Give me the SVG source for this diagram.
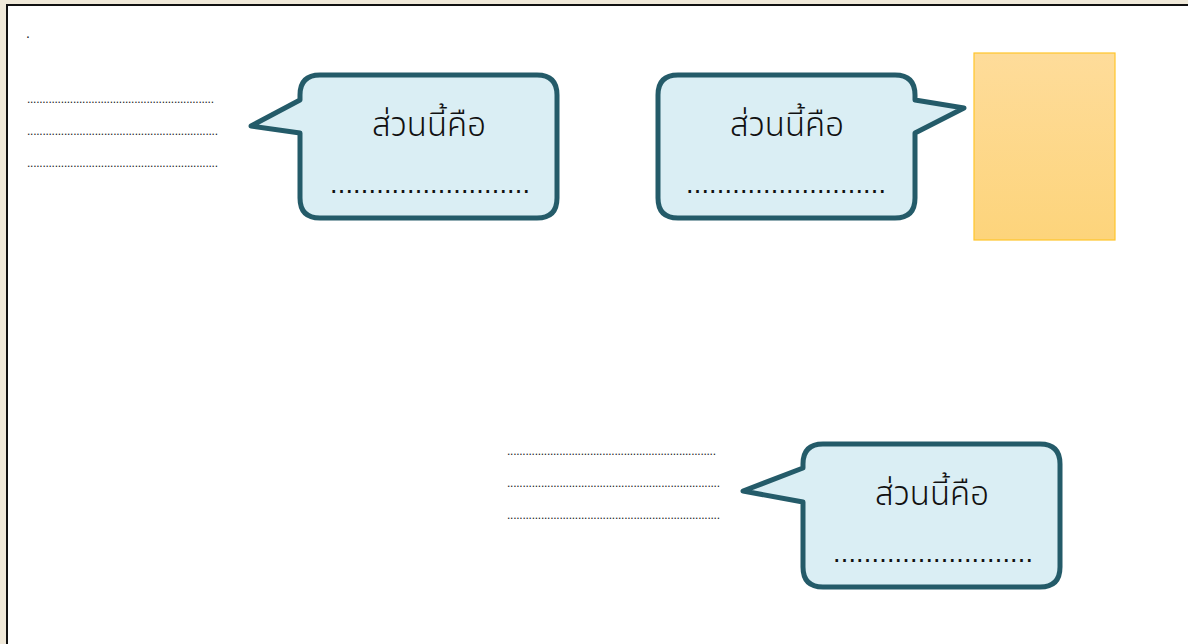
<svg xmlns="http://www.w3.org/2000/svg" width="1188" height="644" viewBox="0 0 1188 644">
<defs>
<linearGradient id="yg" x1="0" y1="0" x2="0" y2="1">
<stop offset="0" stop-color="#fedc9a"/>
<stop offset="1" stop-color="#fdd47b"/>
</linearGradient>
<style>
.bubble{fill:#daeef4;stroke:#245b69;stroke-width:5;stroke-linejoin:round}
.th{font-family:"Noto Sans Thai","Noto Sans","DejaVu Sans",sans-serif;font-size:33px;font-weight:300;fill:#111;text-anchor:middle}
.bd{font-family:"Liberation Sans",sans-serif;font-size:27px;fill:#111}
.sd{font-family:"Liberation Sans",sans-serif;font-size:12px;fill:#222}
</style>
</defs>
<rect x="0" y="0" width="1188" height="644" fill="#f0e9d9"/>
<rect x="7" y="5" width="1190" height="650" fill="#ffffff" stroke="#111" stroke-width="2"/>
<text class="sd" x="26" y="38" style="font-size:14px">.</text>
<g id="leftlines">
<text class="sd" x="27" y="103" textLength="187" lengthAdjust="spacing">.............................................................</text>
<text class="sd" x="27" y="135" textLength="191" lengthAdjust="spacing">..............................................................</text>
<text class="sd" x="27" y="167" textLength="191" lengthAdjust="spacing">..............................................................</text>
</g>
<g id="lowerlines">
<text class="sd" x="507" y="455" textLength="209" lengthAdjust="spacing">....................................................................</text>
<text class="sd" x="507" y="487" textLength="213" lengthAdjust="spacing">.....................................................................</text>
<text class="sd" x="507" y="519" textLength="213" lengthAdjust="spacing">.....................................................................</text>
</g>
<g id="callout1">
<path class="bubble" d="M320,75 H537 Q557,75 557,95 V198 Q557,218 537,218 H320 Q300,218 300,198 V133 L251,126 L300,100 V95 Q300,75 320,75 Z"/>
<text class="th" x="429" y="136">ส่วนนี้คือ</text>
<text class="bd" x="330" y="193" textLength="200" lengthAdjust="spacing">..........................</text>
</g>
<g id="callout2">
<path class="bubble" d="M678,75 H895 Q915,75 915,95 V100 L964,108 L915,133 V198 Q915,218 895,218 H678 Q658,218 658,198 V95 Q658,75 678,75 Z"/>
<text class="th" x="787" y="136">ส่วนนี้คือ</text>
<text class="bd" x="686" y="193" textLength="200" lengthAdjust="spacing">..........................</text>
</g>
<rect id="box" x="974" y="53" width="141" height="187" fill="url(#yg)" stroke="#ffc52a" stroke-width="1.2"/>
<g id="callout3">
<path class="bubble" d="M823,444 H1040 Q1060,444 1060,464 V567 Q1060,587 1040,587 H823 Q803,587 803,567 V502 L743,491 L803,468 V464 Q803,444 823,444 Z"/>
<text class="th" x="932" y="505">ส่วนนี้คือ</text>
<text class="bd" x="833" y="562" textLength="200" lengthAdjust="spacing">..........................</text>
</g>
</svg>
